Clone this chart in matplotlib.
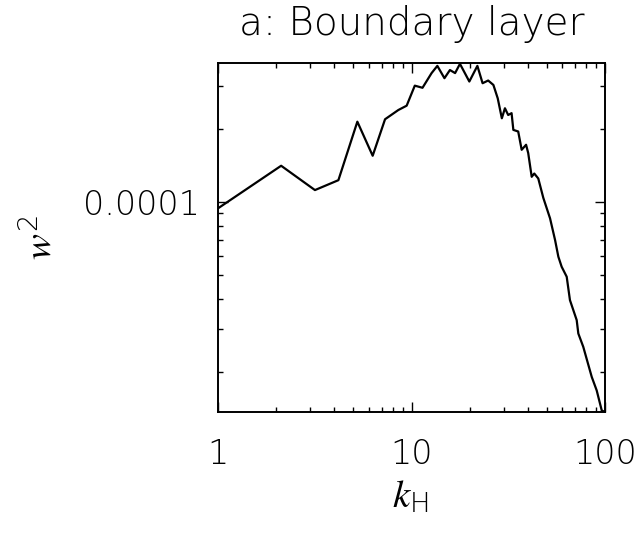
import matplotlib
matplotlib.use('Agg')
import matplotlib.pyplot as plt
from matplotlib.ticker import FixedLocator, NullFormatter, FixedFormatter

plt.rcParams.update({
    'font.family': 'DejaVu Sans',
    'font.weight': 'light',
    'mathtext.fontset': 'custom',
    'mathtext.it': 'STIXGeneral:italic',
    'mathtext.rm': 'DejaVu Sans:light',
    'mathtext.sf': 'DejaVu Sans:light',
    'mathtext.bf': 'STIXGeneral:bold',
})

# spectrum
k_h = [1.0, 2.12, 3.17, 4.19, 5.25, 6.30, 7.30, 8.55, 9.44, 10.4, 11.4, 12.7,
       13.6, 14.8, 15.8, 16.8, 17.8, 19.9, 21.9, 23.3, 24.9, 26.5, 27.9, 29.3,
       30.4, 31.6, 32.9, 33.6, 35.6, 37.1, 39.1, 40.1, 41.8, 43.1, 45.2, 48.0,
       52.0, 55.2, 57.4, 59.7, 63.4, 65.9, 71.4, 72.8, 77.2, 85.4, 90.6, 96.2, 100.0]
w2 = [0.942e-4, 1.41e-4, 1.12e-4, 1.23e-4, 2.14e-4, 1.55e-4, 2.19e-4, 2.39e-4,
      2.49e-4, 3.01e-4, 2.95e-4, 3.39e-4, 3.63e-4, 3.23e-4, 3.49e-4, 3.39e-4,
      3.70e-4, 3.13e-4, 3.63e-4, 3.08e-4, 3.16e-4, 3.03e-4, 2.67e-4, 2.21e-4,
      2.43e-4, 2.28e-4, 2.32e-4, 1.98e-4, 1.95e-4, 1.64e-4, 1.72e-4, 1.59e-4,
      1.27e-4, 1.31e-4, 1.25e-4, 1.04e-4, 0.857e-4, 0.698e-4, 0.596e-4, 0.542e-4,
      0.493e-4, 0.395e-4, 0.327e-4, 0.288e-4, 0.254e-4, 0.191e-4, 0.168e-4,
      0.139e-4, 0.137e-4]

x_major = [1, 10, 100]
x_labels = ['1', '10', '100']
y_major = [1e-4]
y_labels = ['0.0001']

fig = plt.figure(figsize=(6.41, 5.33), dpi=100)
ax = fig.add_axes([218/641, 121/533, 387/641, 349/533])
ax.plot(k_h, w2, color='black', lw=1.6)
ax.set_xscale('log'); ax.set_yscale('log')
ax.set_xlim(1, 100)
ax.set_ylim(1.37e-5, 3.73e-4)

ax.xaxis.set_major_locator(FixedLocator(x_major))
ax.xaxis.set_major_formatter(FixedFormatter(x_labels))
ax.xaxis.set_minor_locator(FixedLocator([m*d for d in (1, 10) for m in range(2, 10)]))
ax.xaxis.set_minor_formatter(NullFormatter())
ax.yaxis.set_major_locator(FixedLocator(y_major))
ax.yaxis.set_major_formatter(FixedFormatter(y_labels))
ax.yaxis.set_minor_locator(FixedLocator([m*1e-5 for m in range(2, 10)] + [2e-4, 3e-4]))
ax.yaxis.set_minor_formatter(NullFormatter())

ax.tick_params(which='both', direction='in', top=True, right=True, width=1.0,
               labelsize=24)
ax.tick_params(which='major', length=7.2)
ax.tick_params(which='minor', length=3.6)
ax.tick_params(axis='x', pad=19)
ax.tick_params(axis='y', pad=13)
for s in ax.spines.values():
    s.set_linewidth(1.4)

ax.set_title('a: Boundary layer', fontsize=28, pad=20, fontweight='light')
ax.set_xlabel(r'$k_{\mathrm{H}}$', fontsize=28)
ax.xaxis.set_label_coords(0.496, -0.19)
ax.set_ylabel(r'$w^2$', fontsize=28, va='center')
ax.yaxis.set_label_coords(-0.46, 0.5)

fig.savefig('out.png', dpi=100)
